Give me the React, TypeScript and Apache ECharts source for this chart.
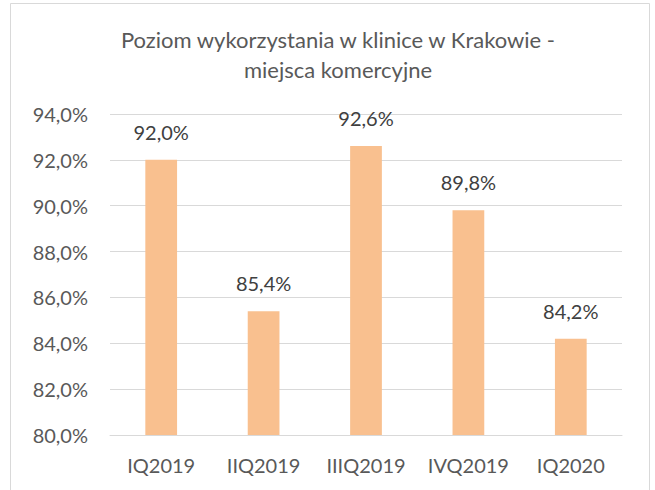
import React, { useEffect, useRef } from "react";
import * as echarts from "echarts";

const categories = ["IQ2019", "IIQ2019", "IIIQ2019", "IVQ2019", "IQ2020"];
const values = [92.0, 85.4, 92.6, 89.8, 84.2];
const titleLines = ["Poziom wykorzystania w klinice w Krakowie -", "miejsca komercyjne"];

const fmt = (v: number) => v.toFixed(1).replace(".", ",") + "%";

export default function App() {
  const ref = useRef<HTMLDivElement>(null);
  useEffect(() => {
    if (!ref.current) return;
    const chart = echarts.init(ref.current, undefined, { renderer: "svg" });
    const font = "Lato, 'Open Sans', sans-serif";
    chart.setOption({
      animation: false,
      backgroundColor: "#ffffff",
      title: {
        text: titleLines.join("\n"),
        left: 333,
        top: 19,
        textAlign: "center",
        textStyle: {
          fontFamily: font,
          fontSize: 22,
          fontWeight: "normal",
          color: "#595959",
          lineHeight: 30,
        },
      },
      graphic: [
        {
          type: "rect",
          shape: { x: 10.5, y: 3.5, width: 639, height: 500 },
          style: { fill: "none", stroke: "#D9D9D9", lineWidth: 1 },
          silent: true,
        },
      ],
      grid: { left: 110, right: 33, top: 114, bottom: 55 },
      xAxis: {
        type: "category",
        data: categories,
        axisLine: { show: true, lineStyle: { color: "#D9D9D9", width: 1 } },
        axisTick: { show: false },
        axisLabel: {
          interval: 0,
          hideOverlap: false,
          fontFamily: font,
          fontSize: 20,
          color: "#595959",
          margin: 20,
        },
      },
      yAxis: {
        type: "value",
        min: 80,
        max: 94,
        interval: 2,
        axisLine: { show: false },
        axisTick: { show: false },
        splitLine: { lineStyle: { color: "#D9D9D9", width: 1 } },
        axisLabel: {
          fontFamily: font,
          fontSize: 20,
          color: "#595959",
          margin: 22,
          formatter: (v: number) => fmt(v),
        },
      },
      series: [
        {
          type: "bar",
          data: values,
          barWidth: "31%",
          itemStyle: { color: "#F9C08F" },
          label: {
            show: true,
            position: "top",
            distance: 18,
            fontFamily: font,
            fontSize: 20,
            color: "#404040",
            formatter: (p: any) => fmt(p.value),
          },
        },
      ],
    });
    return () => chart.dispose();
  }, []);
  return (
    <div
      ref={ref}
      style={{ position: "absolute", left: 0, top: 0, width: 655, height: 490 }}
    />
  );
}
